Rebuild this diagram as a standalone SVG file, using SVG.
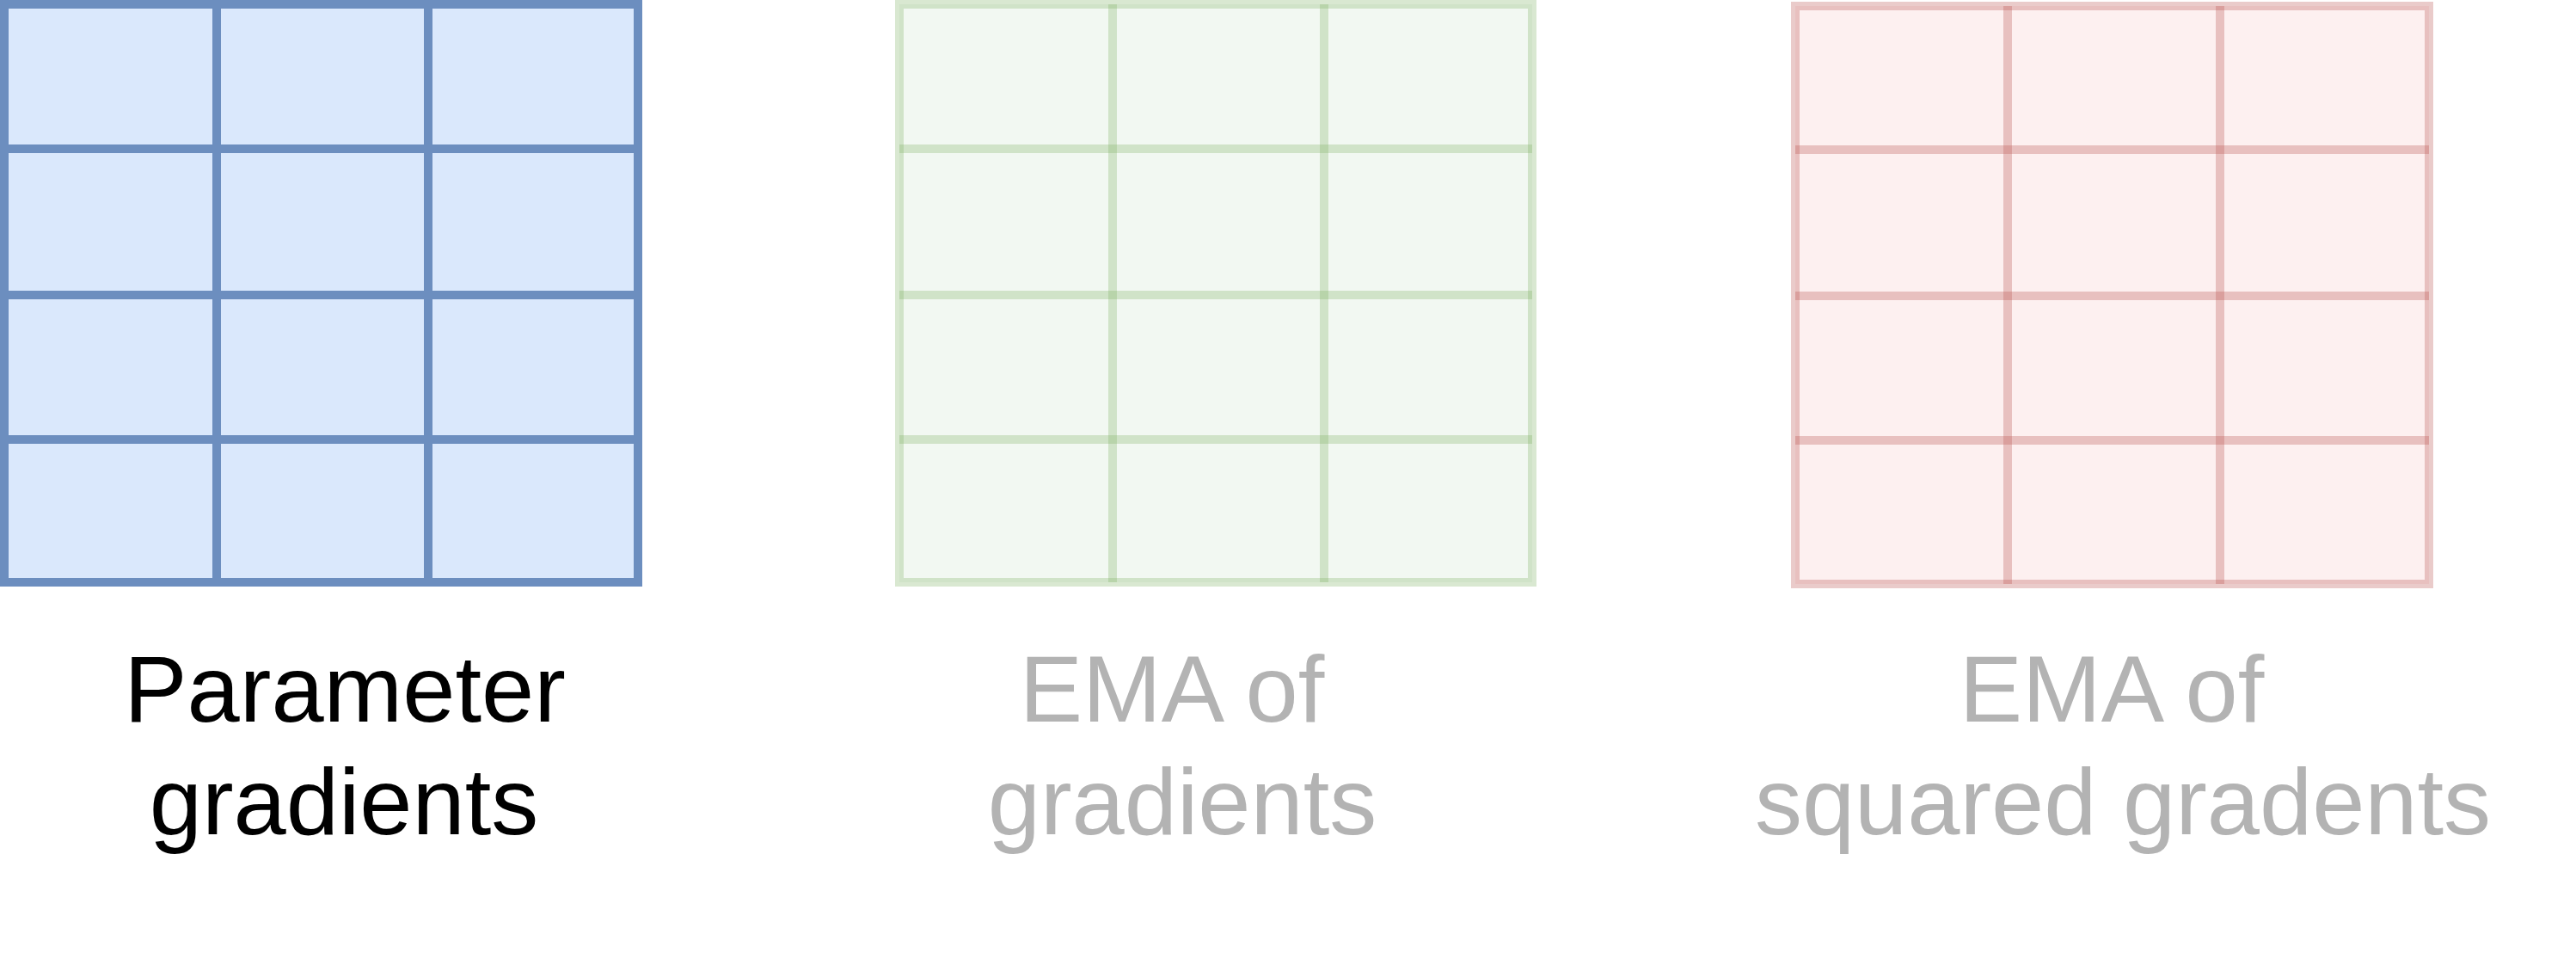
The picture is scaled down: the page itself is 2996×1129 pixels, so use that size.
<svg xmlns="http://www.w3.org/2000/svg" width="2996" height="1129" viewBox="0 0 2996 1129">
<style>
.grid rect,.grid line{stroke-width:10}
.blue rect{fill:#dae8fc;stroke:#6c8ebf}
.blue line{stroke:#6c8ebf}
.green rect{fill:#d5e8d4;fill-opacity:0.3;stroke:#82b366;stroke-opacity:0.3}
.green line{stroke:#82b366;stroke-opacity:0.3}
.red rect{fill:#f8cecc;fill-opacity:0.3;stroke:#b85450;stroke-opacity:0.3}
.red line{stroke:#b85450;stroke-opacity:0.3}
text{font-family:"Liberation Sans",Arial,Helvetica,sans-serif;font-size:110px;text-anchor:middle}
.dark{fill:#000}
.gray{fill:#b3b3b3}
</style>
<rect width="2996" height="1129" fill="#fff"/>
<g id="param-grads" class="grid blue">
<rect x="5" y="5" width="737" height="672"/>
<line x1="252" y1="5" x2="252" y2="677"/>
<line x1="498" y1="5" x2="498" y2="677"/>
<line x1="5" y1="173" x2="742" y2="173"/>
<line x1="5" y1="343" x2="742" y2="343"/>
<line x1="5" y1="511" x2="742" y2="511"/>
</g>
<g id="ema-grads" class="grid green">
<rect x="1046" y="5" width="736" height="672"/>
<line x1="1294" y1="5" x2="1294" y2="677"/>
<line x1="1540" y1="5" x2="1540" y2="677"/>
<line x1="1046" y1="173" x2="1782" y2="173"/>
<line x1="1046" y1="343" x2="1782" y2="343"/>
<line x1="1046" y1="511" x2="1782" y2="511"/>
</g>
<g id="ema-sq-grads" class="grid red">
<rect x="2088" y="7" width="737" height="672"/>
<line x1="2335" y1="7" x2="2335" y2="679"/>
<line x1="2582" y1="7" x2="2582" y2="679"/>
<line x1="2088" y1="174" x2="2825" y2="174"/>
<line x1="2088" y1="344" x2="2825" y2="344"/>
<line x1="2088" y1="512" x2="2825" y2="512"/>
</g>
<g id="labels">
<text class="dark" x="401" y="839">Parameter</text>
<text class="dark" x="400" y="970">gradients</text>
<text class="gray" x="1363" y="839">EMA of</text>
<text class="gray" x="1375" y="970">gradients</text>
<text class="gray" x="2456" y="839">EMA of</text>
<text class="gray" x="2469" y="970">squared gradents</text>
</g>
</svg>
